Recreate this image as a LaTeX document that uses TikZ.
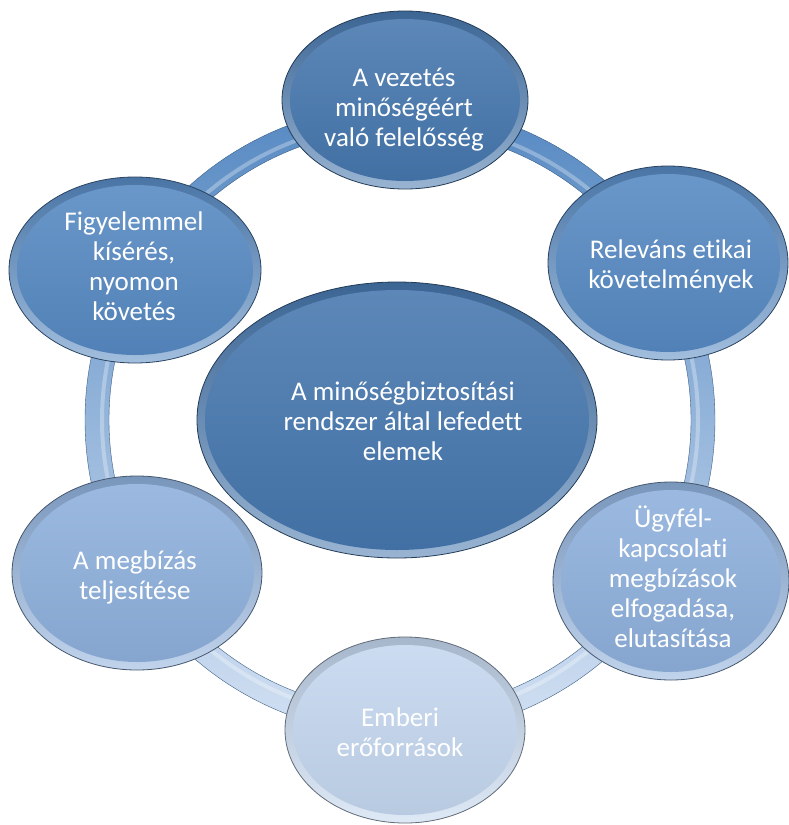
\documentclass[tikz,border=0pt]{standalone}
\usepackage{fontspec}
\setmainfont{Carlito}[Ligatures=NoCommon]

\definecolor{kek1}{HTML}{4677AE}
\definecolor{kek2}{HTML}{5689C2}
\definecolor{kek3}{HTML}{8EB0DC}
\definecolor{kek4}{HTML}{C4D7EF}

\tikzset{
  txt/.style={text=white, align=center, font=\fontsize{27}{30}\selectfont},
}

% #1 centre, #2 x radius, #3 y radius, #4 colour
\newcommand{\buborek}[4]{
  \shade[top color=#4!85!black, bottom color=#4!55!white, draw=#4!50!black, line width=0.8pt]
    (#1) ellipse [x radius=#2, y radius=#3];
  \shade[top color=#4!88!white, bottom color=#4!94!black]
    (#1) ellipse [x radius={#2-8}, y radius={#3-8}];
}

\begin{document}
\begin{tikzpicture}[x=1pt, y=-1pt]
  \useasboundingbox (0,0) rectangle (788,825);
  \fill[white] (0,0) rectangle (788,825);

  % the ring
  \shade[even odd rule, top color=kek2, bottom color=kek4!75!white,
    draw=kek2!70!black, line width=0.4pt]
    (400,420) circle (315) (400,420) circle (291);
  \draw[white, opacity=0.3, line width=4pt] (400,420) circle (298);

  \buborek{405,100}{123}{89}{kek1}
  \buborek{668,263}{120}{97}{kek2}
  \buborek{671,581}{118}{99}{kek3}
  \buborek{405,730}{120}{93}{kek4}
  \buborek{137,573}{125}{97}{kek3}
  \buborek{135,270}{126}{93}{kek2}
  \buborek{397,420}{200}{138}{kek1}

  \node[txt] (felelosseg) at (404,110) {A vezetés\\minőségéért\\való felelősség};
  \node[txt] (etikai) at (671,266) {Releváns etikai\\követelmények};
  \node[txt] (ugyfel) at (673,577) {Ügyfél-\\kapcsolati\\megbízások\\elfogadása,\\elutasítása};
  \node[txt] (emberi) at (400,732) {Emberi\\erőforrások};
  \node[txt] (megbizas) at (135,577) {A megbízás\\teljesítése};
  \node[txt] (figyelem) at (134,266) {Figyelemmel\\kísérés,\\nyomon\\követés};
  \node[txt] (kozep) at (403,421) {A minőségbiztosítási\\rendszer által lefedett\\elemek};
\end{tikzpicture}
\end{document}
